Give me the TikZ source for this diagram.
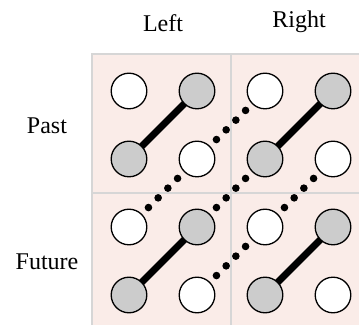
\documentclass[tikz,border=0pt]{standalone}
\usepackage{fontspec}
\setmainfont{Liberation Serif}

\definecolor{cellpink}{RGB}{250,236,232}
\definecolor{gridgray}{RGB}{214,214,214}
\definecolor{spotgray}{RGB}{204,204,204}

\tikzset{
  spot/.style={circle, draw, line width=0.65pt, minimum size=17.8pt, inner sep=0pt, outer sep=0pt, fill=white},
  onspot/.style={spot, fill=spotgray},
  solidlink/.style={line width=3.4pt},
  dotlink/.style={line width=3.8pt, line cap=round, dash pattern=on 0pt off 6.86pt, dash phase=2.01pt},
  axislabel/.style={anchor=base, font=\fontsize{12}{14}\selectfont},
}

\begin{document}
\begin{tikzpicture}[x=34pt, y=34pt]

  \useasboundingbox (-3.397,-1.941) rectangle (1.882,2.838);
  \clip (-3.397,-1.941) rectangle (1.882,2.838);

  % Cells
  \fill[cellpink] (-2.04,-2.04) rectangle (2.04,2.04);
  \draw[gridgray, line width=1pt] (-2.04,-2.04) rectangle (2.04,2.04);
  \draw[gridgray, line width=1pt] (0,-2.04) -- (0,2.04);
  \draw[gridgray, line width=1pt] (-2.04,0) -- (2.04,0);

  % Labels
  \node[axislabel] (left) at (-1,2.37) {Left};
  \node[axislabel] (right) at (1,2.43) {Right};
  \node[axislabel] (past) at (-2.706,0.882) {Past};
  \node[axislabel] (future) at (-2.706,-1.132) {Future};

  % Past, Left
  \node[spot]   (s11) at (-1.5,1.5) {};
  \node[onspot] (s12) at (-0.5,1.5) {};
  \node[onspot] (s21) at (-1.5,0.5) {};
  \node[spot]   (s22) at (-0.5,0.5) {};

  % Past, Right
  \node[spot]   (s13) at (0.5,1.5) {};
  \node[onspot] (s14) at (1.5,1.5) {};
  \node[onspot] (s23) at (0.5,0.5) {};
  \node[spot]   (s24) at (1.5,0.5) {};

  % Future, Left
  \node[spot]   (s31) at (-1.5,-0.5) {};
  \node[onspot] (s32) at (-0.5,-0.5) {};
  \node[onspot] (s41) at (-1.5,-1.5) {};
  \node[spot]   (s42) at (-0.5,-1.5) {};

  % Future, Right
  \node[spot]   (s33) at (0.5,-0.5) {};
  \node[onspot] (s34) at (1.5,-0.5) {};
  \node[onspot] (s43) at (0.5,-1.5) {};
  \node[spot]   (s44) at (1.5,-1.5) {};

  % Solid links
  \draw[solidlink] (s21) -- (s12);
  \draw[solidlink] (s23) -- (s14);
  \draw[solidlink] (s41) -- (s32);
  \draw[solidlink] (s43) -- (s34);

  % Dotted links
  \draw[dotlink] (s13) -- (s22);
  \draw[dotlink] (s22) -- (s31);
  \draw[dotlink] (s23) -- (s32);
  \draw[dotlink] (s24) -- (s33);
  \draw[dotlink] (s33) -- (s42);

\end{tikzpicture}
\end{document}
